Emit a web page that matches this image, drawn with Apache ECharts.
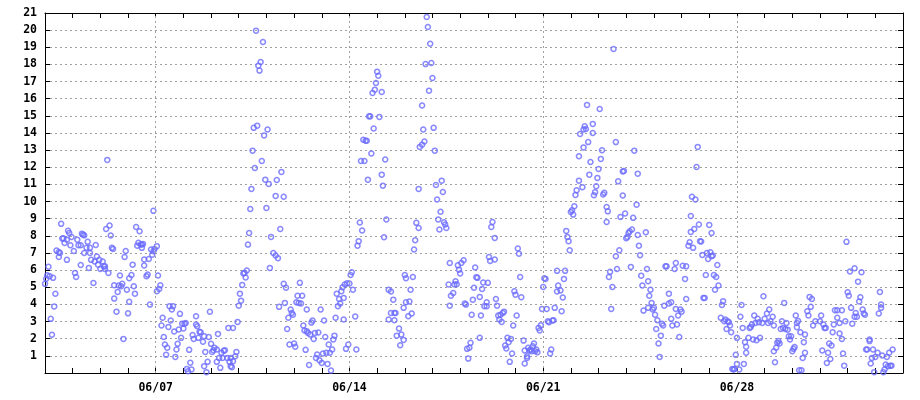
<!DOCTYPE html>
<html>
<head>
<meta charset="utf-8">
<script src="https://cdn.jsdelivr.net/npm/echarts@6/dist/echarts.min.js"></script>
<style>
html,body{margin:0;padding:0;background:#fff;}
#chart{width:920px;height:400px;}
</style>
</head>
<body>
<div id="chart"></div>
<script>
// hours since 06/03 00:00
const times = [
0,1,3,2,4,5,6,7,8,9,
10,12,12,13,14,15,16,17,19,19,
20,21,22,23,25,26,27,28,29,31,
31,32,33,34,34,36,37,38,39,39,
40,42,43,44,45,46,47,48,50,51,
52,52,53,54,55,56,57,58,59,60,
60,62,63,64,65,66,67,68,69,70,
71,72,73,73,75,76,77,78,79,80,
81,82,83,84,84,85,86,86,88,89,
90,91,92,93,94,94,95,97,97,98,
99,100,101,102,103,104,105,106,107,108,
109,110,111,112,113,114,115,116,117,118,
119,120,121,122,123,124,125,126,127,128,
129,131,131,132,133,134,135,137,138,138,
139,140,141,142,143,144,145,146,147,149,
149,150,151,152,153,154,155,156,158,159,
160,161,161,162,163,163,165,166,167,168,
169,170,171,172,173,174,175,176,177,178,
179,180,181,182,183,184,185,186,187,188,
189,190,191,192,193,194,195,196,198,200,
200,201,202,203,204,205,207,207,208,209,
210,211,212,213,214,215,216,217,218,219,
220,221,222,223,224,225,226,227,227,228,
229,230,231,232,233,234,235,236,237,238,
239,240,241,242,243,244,245,246,247,248,
249,250,251,252,253,254,255,256,257,258,
259,259,260,261,262,263,264,265,266,267,
269,270,271,272,273,274,275,276,277,278,
279,280,281,282,283,284,285,286,287,288,
289,290,292,292,293,294,295,296,298,298,
300,300,302,303,303,304,305,307,308,309,
311,311,312,313,313,315,316,317,318,319,
320,321,322,324,324,325,327,327,328,329,
330,331,332,333,334,335,336,337,338,339,
340,341,342,343,344,345,346,347,348,350,
351,351,352,354,355,356,357,358,359,360,
361,363,364,365,366,367,368,369,370,371,
372,373,374,375,377,377,378,379,380,381,
383,383,384,385,386,387,388,390,390,391,
392,393,394,395,396,397,398,399,400,401,
402,403,404,405,406,407,408,409,410,411,
412,413,415,416,416,418,418,419,420,421,
422,423,424,425,426,427,428,429,430,431,
432,433,434,435,436,437,438,439,440,441,
442,444,444,445,447,448,449,450,451,452,
453,454,455,456,457,458,459,460,461,463,
463,464,466,467,467,468,469,470,471,472,
473,475,475,476,477,478,479,480,481,482,
483,484,485,487,487,488,489,490,491,492,
493,495,495,496,497,498,499,501,501,502,
503,504,505,506,507,508,509,510,511,513,
514,514,515,516,517,518,519,521,522,523,
523,524,525,526,527,528,529,530,531,532,
533,534,535,536,537,538,539,541,541,543,
543,544,546,547,547,548,549,550,551,552,
553,555,556,556,558,559,560,560,561,562,
563,564,565,566,567,568,569,570,571,572,
573,574,575,576,577,578,578,579,580,581,
582,583,584,586,587,588,589,590,591,592,
593,594,595,596,597,598,599,600,600,602,
603,604,605,606,607,608,608,610,611,612,
613,614,615,616,617,618,619,620,622,623,
624,626,627,628,629,631,632,632,633,634,
635,636,637,638,639,640,641,642,643,644,
645,646,647,648,649,650,651,652,652,653,
654,655,656,657,658,659,659,661,662,663,
664,665,666,668,672,673,674,675,676,677,
678,679,680,681,682,683,684,685,687,687,
689,689,691,691,692,693,694,695,696,697,
698,699,700,702,702,703,704,705,706,707,
708,709,710,711,712,713,715,715,716,717,
718,719,720,722,723,724,725,725,726,727,
728,729,730,731,732,733,734,735
];
const values = [
5.2,5.5,6.2,5.7,5.65,3.16,2.23,5.55,3.88,4.62,
7.14,7.06,6.77,7.0,8.7,7.84,7.86,7.59,7.78,6.6,
8.3,8.17,7.45,7.93,7.12,5.84,5.6,7.78,7.45,7.45,
6.3,8.13,8.07,8.03,7.0,7.3,7.65,6.13,7.3,7.0,
6.6,5.25,6.5,7.47,6.8,6.32,6.6,6.07,6.5,6.22,
6.07,6.22,8.4,12.43,5.84,8.6,8.02,7.3,7.24,4.34,
5.12,3.58,4.73,5.1,5.69,5.06,5.2,1.99,6.77,7.12,
4.86,3.48,5.53,4.15,5.72,6.32,5.06,4.63,8.52,7.43,
7.6,8.27,7.5,7.3,7.5,7.53,6.62,6.27,5.65,5.74,
6.65,3.99,7.2,6.9,9.46,7.1,7.24,7.4,4.77,5.69,
4.9,5.12,2.77,3.22,2.1,1.66,1.06,1.47,2.69,3.9,
3.06,3.7,3.9,2.42,0.94,1.37,1.7,2.54,3.45,2.05,
2.88,2.6,2.88,2.92,0.24,0.1,1.35,0.6,0.2,2.22,
1.99,3.31,2.83,2.73,2.05,2.4,2.38,1.82,2.15,0.4,
1.23,0.05,0.65,2.1,3.57,1.7,1.23,1.33,1.47,1.37,
0.65,2.28,0.88,0.3,1.18,0.88,1.3,1.33,0.88,2.63,
0.65,0.88,0.4,0.34,2.63,0.69,0.98,1.23,2.98,3.93,
4.63,4.22,5.14,5.8,5.84,5.57,5.98,7.49,8.17,9.57,
10.74,12.97,14.3,11.96,19.97,14.43,17.93,17.64,18.14,12.37,
19.31,13.85,11.28,9.63,14.2,11.03,6.13,7.94,7.0,6.85,
10.33,11.26,6.7,3.86,8.4,11.73,10.28,5.2,4.09,4.97,
2.57,3.22,1.66,3.7,3.5,3.4,1.72,1.53,4.13,4.51,
4.09,5.26,4.05,4.51,2.77,2.48,1.35,2.44,3.7,2.34,
0.47,2.24,2.94,3.06,1.99,2.34,0.88,1.08,2.36,0.74,
3.7,0.59,1.14,3.06,2.1,1.18,0.53,1.66,1.18,0.14,
1.37,1.95,2.18,3.22,4.63,3.9,4.32,4.05,4.77,5.0,
3.12,4.38,5.16,1.41,5.24,1.66,5.22,5.72,5.88,4.86,
3.3,1.37,7.43,7.69,8.78,12.37,8.31,13.61,12.37,13.55,
13.55,11.28,14.97,14.97,12.8,16.33,14.26,16.53,16.92,17.58,
17.34,14.94,11.57,16.39,10.93,7.92,12.45,8.95,4.86,3.12,
4.75,3.5,4.28,3.08,3.5,3.5,2.18,2.59,1.62,2.24,
1.93,3.8,5.72,5.53,4.13,3.31,4.17,4.86,3.47,5.6,
7.2,7.74,8.76,8.46,10.74,13.19,15.6,13.32,14.2,13.5,
18.02,20.77,20.18,16.47,19.21,18.08,17.21,14.3,12.97,10.97,
10.12,8.95,8.37,9.41,11.22,10.56,8.79,8.66,8.46,5.16,
6.42,3.93,4.51,4.67,5.16,5.35,5.18,6.28,6.03,5.8,
6.42,6.58,4.05,3.99,1.41,0.84,1.47,1.76,3.4,4.28,
4.97,6.15,5.59,5.55,4.44,2.05,3.35,4.9,5.28,3.9,
4.13,3.9,5.26,6.77,6.54,8.52,8.81,6.62,7.88,4.32,
3.93,3.35,3.12,3.4,2.98,3.5,3.58,1.6,1.43,2.05,
1.8,0.65,1.99,1.14,2.77,4.77,4.57,3.35,7.26,6.96,
5.6,4.42,1.89,1.31,0.55,0.98,0.88,1.47,1.31,1.37,
1.27,1.56,1.72,1.27,1.37,1.21,2.63,2.48,2.79,3.74,
5.02,5.53,5.49,3.74,3.02,2.96,1.14,1.37,3.06,3.08,
3.8,5.96,4.75,5.1,4.81,3.6,4.4,5.49,5.96,8.29,
7.94,7.69,7.16,9.39,9.49,9.24,9.73,10.39,10.66,11.22,
12.64,13.94,10.84,13.16,14.2,14.39,14.23,15.64,13.47,11.57,
12.31,14.53,14.0,10.37,10.55,10.89,11.38,11.9,15.4,12.49,
12.99,10.41,10.51,8.81,9.68,9.43,5.6,5.9,3.74,5.02,
18.9,13.47,6.81,6.07,11.18,7.16,9.1,10.35,11.75,11.79,
9.3,7.86,7.94,8.17,8.27,6.19,8.37,9.05,12.97,9.82,
11.63,8.05,7.43,6.87,5.68,5.1,3.64,8.21,6.07,3.8,
5.35,4.51,4.86,4.09,3.7,3.8,3.4,2.57,3.08,1.72,
0.94,2.18,2.88,2.77,3.93,6.22,6.22,4.63,4.05,4.13,
3.16,2.77,6.07,6.42,3.74,2.83,3.35,2.1,3.7,3.58,
6.26,5.49,6.22,4.32,7.43,7.63,9.16,8.23,10.28,7.3,
8.4,10.12,12.02,13.19,8.66,7.69,7.67,6.89,4.38,4.38,
5.72,7.0,6.65,8.64,7.04,6.81,8.17,6.85,5.72,4.86,
5.6,6.3,5.1,3.22,3.97,4.19,3.02,3.12,2.57,3.02,
2.96,2.77,2.38,0.24,0.2,0.24,1.06,0.53,2.05,0.2,
3.28,3.97,2.63,0.53,1.8,1.53,1.18,2.05,2.63,2.69,
2.83,1.95,3.35,2.92,1.91,3.16,2.96,2.05,2.92,4.48,
3.16,3.47,2.92,3.7,3.02,3.28,2.77,1.27,0.63,1.47,
1.76,1.86,1.72,2.57,3.02,2.63,4.09,2.57,2.92,2.53,
2.14,1.95,2.14,1.27,1.41,1.51,3.35,2.67,2.92,3.04,
0.16,2.38,0.16,0.88,1.8,1.18,2.24,3.6,3.35,4.44,
3.86,4.32,2.77,3.02,3.02,3.35,1.31,2.83,2.63,2.63,
0.59,1.18,1.72,0.82,1.6,2.38,2.83,3.66,3.22,3.66,
2.92,2.3,3.66,1.99,1.14,0.43,3.02,7.65,4.71,4.51,
5.92,3.8,2.88,6.11,3.28,3.5,3.28,5.33,4.17,4.42,
5.88,3.7,3.47,3.4,1.37,1.37,1.95,1.86,0.55,0.88,
1.37,0.05,0.94,1.18,3.47,4.73,3.8,3.99,1.02,0.05,
0.2,0.49,0.94,0.4,1.18,0.43,0.43,1.37
];
// major date ticks (hours since 06/03 00:00) and their labels
const labelHours = [96, 264, 432, 600];
const dateLabels = ['06/07', '06/14', '06/21', '06/28'];
const totalHours = 744;

const n = Math.min(times.length, values.length);
const pts = [];
for (let i = 0; i < n; i++) pts.push([times[i], values[i]]);

const font = {fontFamily: 'DejaVu Sans Mono', fontWeight: 'bold', fontSize: 11.5, color: '#000'};
const gridDash = {type: [2, 3], color: '#a0a0a0', width: 1};
const axisLine = {show: true, onZero: false, lineStyle: {color: '#000', width: 1}};
const tick = {show: true, inside: true, length: 5, lineStyle: {color: '#000'}};

const chart = echarts.init(document.getElementById('chart'), null, {renderer: 'canvas'});
chart.setOption({
  animation: false,
  backgroundColor: '#fff',
  grid: {left: 45, right: 17, top: 13, bottom: 27, show: false},
  xAxis: [{
    type: 'value', min: 0, max: totalHours, interval: 24, position: 'bottom',
    axisLine: axisLine, axisTick: tick,
    axisLabel: Object.assign({margin: 9, formatter: function (v) {
      const k = labelHours.indexOf(v); return k >= 0 ? dateLabels[k] : '';
    }}, font),
    splitLine: {show: false}
  }, {
    type: 'value', min: 0, max: totalHours, interval: 24, position: 'top',
    axisLine: axisLine, axisTick: tick,
    axisLabel: {show: false},
    splitLine: {show: false}
  }],
  yAxis: [{
    type: 'value', min: 0, max: 21, interval: 1, position: 'left',
    axisLine: axisLine, axisTick: tick,
    axisLabel: Object.assign({margin: 8, formatter: function (v) { return v === 0 ? '' : String(v); }}, font),
    splitLine: {show: true, lineStyle: gridDash}
  }, {
    type: 'value', min: 0, max: 21, interval: 1, position: 'right',
    axisLine: axisLine, axisTick: tick,
    axisLabel: {show: false},
    splitLine: {show: false}
  }],
  series: [{
    type: 'scatter',
    xAxisIndex: 0, yAxisIndex: 0,
    clip: false,
    symbol: 'circle',
    symbolSize: 5,
    itemStyle: {color: 'rgba(0,0,0,0)', borderColor: '#6a6aff', borderWidth: 1.5},
    emphasis: {disabled: true},
    data: pts,
    markLine: {
      silent: true, symbol: 'none', animation: false,
      label: {show: false},
      lineStyle: gridDash,
      data: labelHours.map(h => ({xAxis: h}))
    },
    z: 3
  }]
});
</script>
</body>
</html>
